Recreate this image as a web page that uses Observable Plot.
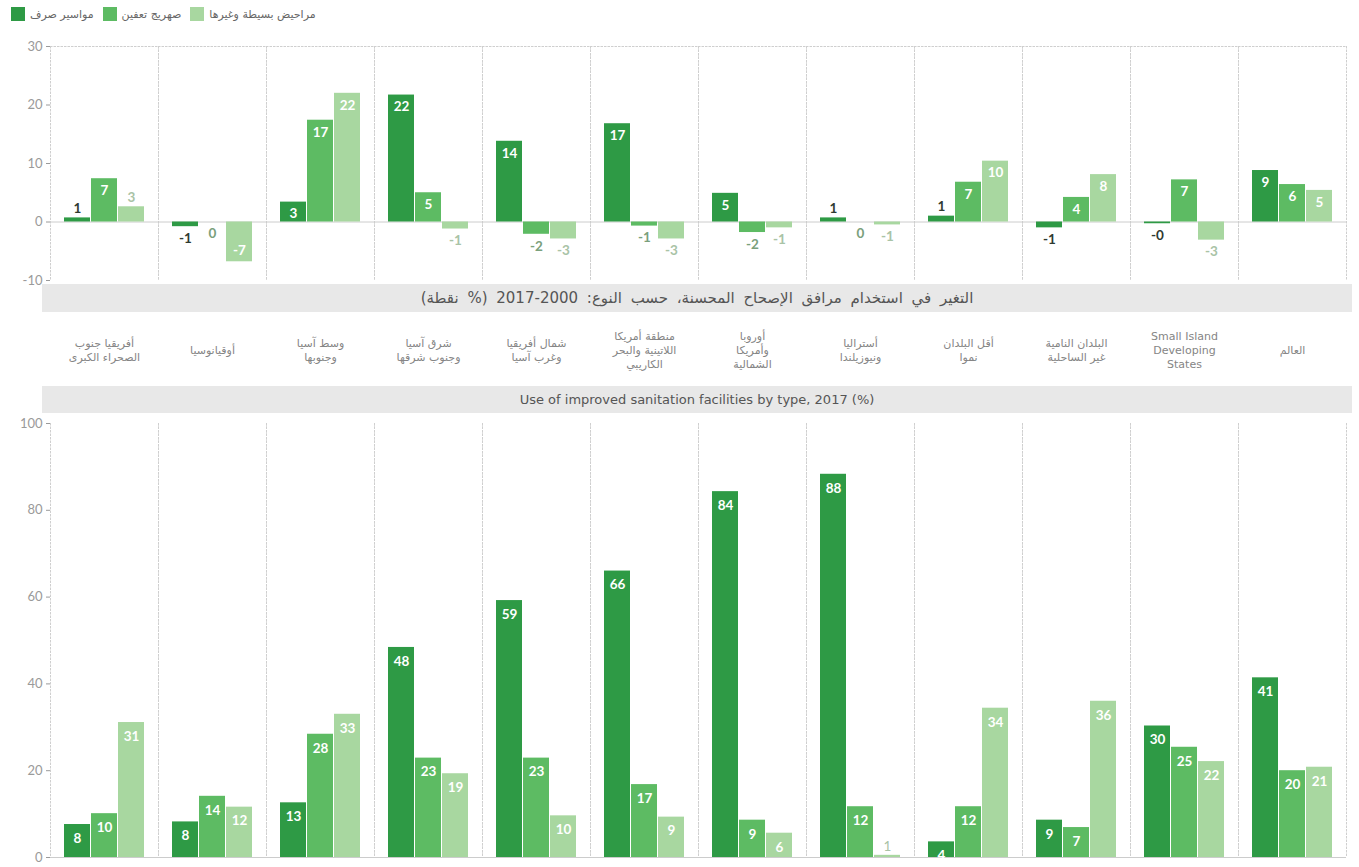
<!DOCTYPE html>
<html><head><meta charset="utf-8">
<script src="https://cdn.jsdelivr.net/npm/d3@7"></script>
<script src="https://cdn.jsdelivr.net/npm/@observablehq/plot@0.6"></script>
<style>
body{margin:0;background:#fff;font-family:Lato,"DejaVu Sans",sans-serif;}
#wrap{position:relative;width:1359px;height:867px;overflow:hidden;background:#fff;}
.abs{position:absolute;left:0;}
.abs svg{overflow:visible;}
.tbar{position:absolute;left:42px;width:1310px;background:#e8e8e8;color:#555;text-align:center;font-family:"DejaVu Sans",sans-serif;}
#legend{position:absolute;left:11px;top:7px;display:flex;align-items:center;font-size:11px;color:#666;font-family:"DejaVu Sans",sans-serif;}
#legend .sw{width:14px;height:14px;display:inline-block;margin-right:5px;}
#legend .it{display:flex;align-items:center;margin-right:9px;}
</style></head><body>
<div id="wrap">
  <div id="legend"></div>
  <div id="top" class="abs" style="top:0"></div>
  <div class="tbar" dir="rtl" style="top:284px;height:28px;line-height:28px;font-size:15px;word-spacing:4px;">التغير في استخدام مرافق الإصحاح المحسنة، حسب النوع: 2000-2017 (% نقطة)</div>
  <div id="mid" class="abs" style="top:312px"></div>
  <div class="tbar" style="top:386px;height:27px;line-height:27px;font-size:13px;">Use of improved sanitation facilities by type, 2017 (%)</div>
  <div id="bottom" class="abs" style="top:413px"></div>
</div>
<script>
const categories = ["SSA","OCE","CSA","ESEA","NAWA","LAC","ENA","ANZ","LDC","LLDC","SIDS","WLD"];
const categoryLabels = [
  "أفريقيا جنوب\nالصحراء الكبرى",
  "أوقيانوسيا",
  "وسط آسيا\nوجنوبها",
  "شرق آسيا\nوجنوب شرقها",
  "شمال أفريقيا\nوغرب آسيا",
  "منطقة أمريكا\nاللاتينية والبحر\nالكاريبي",
  "أوروبا\nوأمريكا\nالشمالية",
  "أستراليا\nونيوزيلندا",
  "أقل البلدان\nنموا",
  "البلدان النامية\nغير الساحلية",
  "Small Island\nDeveloping\nStates",
  "العالم"
];
const series = ["مواسير صرف", "صهريج تعفين", "مراحيض بسيطة وغيرها"];
const seriesColors = ["#2e9a45", "#5dbb63", "#a8d7a0"];
const outsideLabelColors = ["#2f3a31", "#7aa07c", "#a9c3a6"];

// Change 2000-2017 (percentage points)
const changeSewer   = [0.7, -0.8, 3.4, 21.7, 13.8, 16.8, 4.9, 0.7, 1.0, -1.0, -0.3, 8.8];
const changeSeptic  = [7.4, 0, 17.4, 5.0, -2.1, -0.7, -1.8, 0, 6.8, 4.2, 7.2, 6.4];
const changeLatrine = [2.6, -6.8, 22.0, -1.2, -2.9, -2.9, -1.0, -0.5, 10.4, 8.1, -3.1, 5.4];

// Use in 2017 (%)
const useSewer   = [7.6, 8.2, 12.6, 48.4, 59.2, 66.0, 84.3, 88.3, 3.6, 8.6, 30.3, 41.4];
const useSeptic  = [10.1, 14.1, 28.4, 22.9, 22.9, 16.8, 8.6, 11.7, 11.7, 6.9, 25.4, 20.0];
const useLatrine = [31.1, 11.6, 33.0, 19.3, 9.6, 9.3, 5.6, 0.5, 34.4, 36.0, 22.1, 20.8];

const topTicks = [30, 20, 10, 0, -10];
const bottomTicks = [0, 20, 40, 60, 80, 100];

const fmt = v => (v < 0 ? "-" : "") + Math.round(Math.abs(v));
const rowsFrom = arrays => categories.flatMap((c, i) => series.map((s, j) => ({
  cat: c, type: s, value: arrays[j][i], color: seriesColors[j], outColor: outsideLabelColors[j], label: fmt(arrays[j][i])
})));

const changeRows = rowsFrom([changeSewer, changeSeptic, changeLatrine]);
const useRows = rowsFrom([useSewer, useSeptic, useLatrine]);

const FONT = 'Lato, "DejaVu Sans", sans-serif';
const common = {
  width: 1359, marginLeft: 45, marginRight: 9,
  fx: {domain: categories, padding: 0, axis: null, label: null},
  x: {domain: series, paddingInner: 0.05, paddingOuter: 0.47, axis: null},
  style: {fontFamily: FONT, fontSize: "13px", color: "#9a9a9a", background: "transparent", overflow: "visible"}
};
const sep = [
  Plot.frame({anchor: "left", stroke: "#cfcfcf", strokeDasharray: "1.5,2"}),
  Plot.frame({anchor: "right", stroke: "#cfcfcf", strokeDasharray: "1.5,2"})
];
const lbl = {fx: "cat", x: "type", y: "value", text: "label", fontWeight: "bold", fontSize: 13.5};

const topChart = Plot.plot({
  ...common,
  height: 284, marginTop: 46, marginBottom: 4,
  y: {domain: [-10, 30], ticks: topTicks, tickSize: 4, tickPadding: 4, tickFormat: d => String(d), label: null},
  marks: [
    Plot.frame({anchor: "top", stroke: "#cfcfcf", strokeDasharray: "1.5,2"}),
    ...sep,
    Plot.ruleY([0], {stroke: "#cccccc"}),
    Plot.barY(changeRows, {fx: "cat", x: "type", y: "value", fill: "color"}),
    Plot.text(changeRows.filter(d => d.value >= 3), {...lbl, dy: 12, fill: "white"}),
    Plot.text(changeRows.filter(d => d.value > 0 && d.value < 3), {...lbl, dy: -9, fill: "outColor"}),
    Plot.text(changeRows.filter(d => d.value <= -5), {...lbl, dy: -11, fill: "white"}),
    Plot.text(changeRows.filter(d => d.value <= 0 && d.value > -5), {...lbl, dy: 12, fill: "outColor"})
  ]
});
document.getElementById("top").appendChild(topChart);

const midChart = Plot.plot({
  width: 1359, height: 74, marginLeft: 45, marginRight: 9, marginTop: 0, marginBottom: 0,
  fx: {domain: categories, padding: 0, axis: null, label: null},
  style: {fontFamily: '"DejaVu Sans", sans-serif', background: "transparent"},
  marks: [
    Plot.text(categories.map((c, i) => ({cat: c, label: categoryLabels[i]})),
      {fx: "cat", text: "label", frameAnchor: "middle", fill: "#858585", fontSize: 11, lineHeight: 1.25})
  ]
});
document.getElementById("mid").appendChild(midChart);

const bottomChart = Plot.plot({
  ...common,
  height: 454, marginTop: 10, marginBottom: 10,
  y: {domain: [0, 100], ticks: bottomTicks, tickSize: 4, tickPadding: 4, tickFormat: d => String(d), label: null},
  marks: [
    ...sep,
    Plot.ruleY([0], {stroke: "#cccccc"}),
    Plot.barY(useRows, {fx: "cat", x: "type", y: "value", fill: "color"}),
    Plot.text(useRows.filter(d => d.value >= 3), {...lbl, dy: 14, fill: "white"}),
    Plot.text(useRows.filter(d => d.value < 3), {...lbl, dy: -9, fill: "outColor", fontWeight: "normal"})
  ]
});
document.getElementById("bottom").appendChild(bottomChart);

const legend = document.getElementById("legend");
series.forEach((s, j) => {
  const it = document.createElement("span");
  it.className = "it";
  const sw = document.createElement("span");
  sw.className = "sw";
  sw.style.background = seriesColors[j];
  const t = document.createElement("span");
  t.textContent = s;
  it.appendChild(sw); it.appendChild(t);
  legend.appendChild(it);
});
</script>
</body></html>
